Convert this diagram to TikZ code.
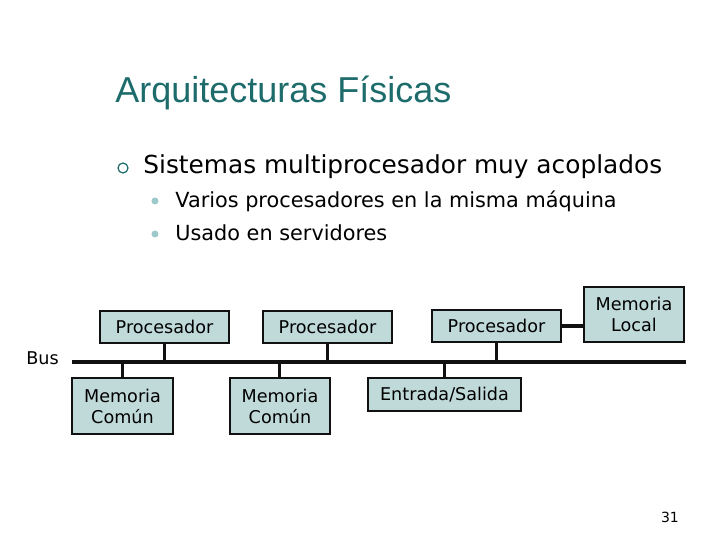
\documentclass[tikz,border=0pt]{standalone}
\usepackage{fontspec}
\setmainfont{DejaVu Sans}
\newfontfamily\titlefont{Liberation Sans}
\usetikzlibrary{
  positioning,
  calc,
}
\definecolor{border}{HTML}{111111}
\definecolor{boxFill}{HTML}{C0D9D9}
\definecolor{titleCol}{HTML}{1E6B6B}
\definecolor{dotCol}{HTML}{9CCACA}
\tikzset{
  unitbox/.style={
    rectangle, draw=border, fill=boxFill, line width=1pt,
    align=center, font=\fontsize{8.8}{10.5}\selectfont, inner sep=1pt,
  },
  txt/.style={anchor=base west, inner sep=0pt},
  busline/.style={line width=2.3pt, border},
  stub/.style={line width=1.5pt, border},
  dot/.style={circle, fill=dotCol, minimum size=3.5pt, inner sep=0pt},
}

\begin{document}
\begin{tikzpicture}[x=0.5pt, y=-0.5pt]
  \useasboundingbox (0,0) rectangle (720,540);

  \node[txt, font=\titlefont\fontsize{18}{20}\selectfont, text=titleCol] (title) at (115,103) {Arquitecturas Físicas};

  % Bullets
  \node[circle, draw=titleCol, line width=0.6pt, minimum size=5pt, inner sep=0pt] (b0) at (123,168) {};
  \node[txt, font=\fontsize{12.4}{14}\selectfont] (l0) at (143,174) {Sistemas multiprocesador muy acoplados};
  \node[dot] (b1) at (155,201) {};
  \node[txt, font=\fontsize{10.4}{12}\selectfont] (l1) at (175,208) {Varios procesadores en la misma máquina};
  \node[dot] (b2) at (155,234) {};
  \node[txt, font=\fontsize{10.4}{12}\selectfont] (l2) at (175,241) {Usado en servidores};

  % Top row
  \node[unitbox, minimum width=64.5pt, minimum height=16pt] (p1) at (164.5,327) {Procesador};
  \node[unitbox, minimum width=64.5pt, minimum height=16pt] (p2) at (327.5,327) {Procesador};
  \node[unitbox, minimum width=64.5pt, minimum height=16pt] (p3) at (496.5,326) {Procesador};
  \node[unitbox, minimum width=50pt, minimum height=27.5pt] (ml) at (634,314.5) {Memoria\\Local};

  % Bus
  \coordinate (busL) at (72,362);
  \coordinate (busR) at (686,362);
  \draw[busline] (busL) -- (busR);
  \node[txt, font=\fontsize{8.8}{10}\selectfont] (buslbl) at (26,365) {Bus};

  % Bottom row
  \node[unitbox, minimum width=50.5pt, minimum height=28pt] (m1) at (122.5,406) {Memoria\\Común};
  \node[unitbox, minimum width=50pt, minimum height=28pt] (m2) at (280,406) {Memoria\\Común};
  \node[unitbox, minimum width=76.5pt, minimum height=16.5pt] (es) at (444.5,394.5) {Entrada/Salida};

  \draw[stub] (p1) -- (p1 |- busL);
  \draw[stub] (p2) -- (p2 |- busL);
  \draw[stub] (p3) -- (p3 |- busL);
  \draw[stub] (m1) -- (m1 |- busL);
  \draw[stub] (m2) -- (m2 |- busL);
  \draw[stub] (es) -- (es |- busL);
  \draw[busline] (p3.east) -- (p3.east -| ml.west);

  \node[font=\fontsize{7}{8}\selectfont] (pg) at (670,517) {31};

\end{tikzpicture}
\end{document}
